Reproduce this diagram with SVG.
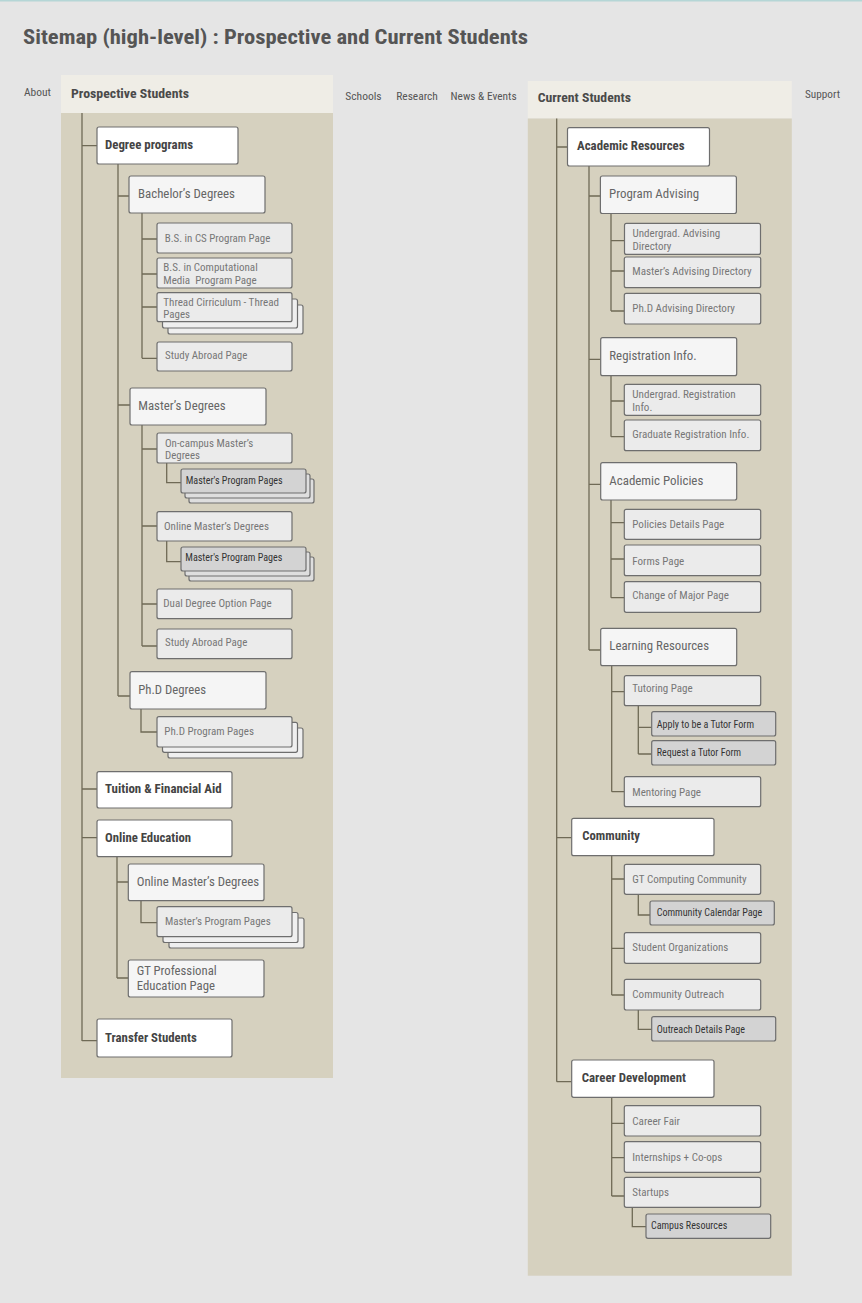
<svg xmlns="http://www.w3.org/2000/svg" width="862" height="1303" viewBox="0 0 862 1303">
<style>
text{font-family:"Roboto Condensed",Roboto,"Liberation Sans",sans-serif}
.title{font-size:21px;font-weight:700;fill:#555}
.nav{font-size:11.5px;fill:#555}
.hdr{font-size:13.5px;font-weight:700;fill:#4a4a4a}
.t1{font-size:13.5px;font-weight:700;fill:#444}
.t2{font-size:13px;fill:#666}
.t3{font-size:10.5px;fill:#777}
.t3b{font-size:11px;fill:#777}
.t4{font-size:10px;fill:#333}
.b{stroke:#6e6e6e;stroke-width:1.2}
.l1{fill:#fff}
.l2{fill:#f5f5f5}
.l3{fill:#ebebeb}
.l3c{fill:#efefef}
.l4{fill:#d3d3d3}
.l4c{fill:#dedede}
.panel{fill:#d6d1bf}
.phead{fill:#efede6}
.conn{fill:none;stroke:#6f6a56;stroke-width:1.3}
</style>
<rect width="862" height="1303" fill="#e5e5e5"/>
<rect width="862" height="1.5" fill="#b5d6d6"/>
<text class="title" x="23" y="43.5" textLength="505" lengthAdjust="spacingAndGlyphs">Sitemap (high-level) : Prospective and Current Students</text>

<g id="nav">
<text class="nav" x="24" y="95.7" textLength="27" lengthAdjust="spacingAndGlyphs">About</text>
<text class="nav" x="345.3" y="99.5" textLength="36.3" lengthAdjust="spacingAndGlyphs">Schools</text>
<text class="nav" x="396.2" y="99.5" textLength="41.7" lengthAdjust="spacingAndGlyphs">Research</text>
<text class="nav" x="450.5" y="99.5" textLength="66.1" lengthAdjust="spacingAndGlyphs">News &amp; Events</text>
<text class="nav" x="805" y="98" textLength="35" lengthAdjust="spacingAndGlyphs">Support</text>
</g>

<g id="panel-prospective">
<rect class="phead" x="61" y="75" width="272" height="38"/>
<rect class="panel" x="61" y="113" width="272" height="965"/>
<text class="hdr" x="71" y="98" textLength="118" lengthAdjust="spacingAndGlyphs">Prospective Students</text>
</g>
<g id="panel-current">
<rect class="phead" x="527.8" y="81" width="264" height="37.5"/>
<rect class="panel" x="527.8" y="118.5" width="264" height="1157.2"/>
<text class="hdr" x="537.7" y="101.8" textLength="93.3" lengthAdjust="spacingAndGlyphs">Current Students</text>
</g>

<g id="connectors">
<path class="conn" d="M82,113V1041M82,145.7H97M82,789H97M82,837.7H97M82,1040.7H97"/>
<path class="conn" d="M118,164V696M118,196H129M118,405H130M118,696H130"/>
<path class="conn" d="M142,213V358.3M142,239H157M142,274H157M142,307H157M142,358.3H157"/>
<path class="conn" d="M142,425V646M142,449H157M142,526H157M142,604H157M142,646H157"/>
<path class="conn" d="M166.7,463V482.7H181M166.7,541V561.7H181"/>
<path class="conn" d="M141,709V732H157"/>
<path class="conn" d="M117,857V978M117,882H128.3M117,978H128.3"/>
<path class="conn" d="M141,901V922.7H157"/>
<path class="conn" d="M556.7,118.5V1081.7M556.7,147H567.5M556.7,837.7H571.7M556.7,1081.7H571.7"/>
<path class="conn" d="M589,166V650M589,196H600.4M589,359.3H600.7M589,484.3H600.7M589,650H600.7"/>
<path class="conn" d="M611,213.5V311M611,240.7H624.5M611,271H624.3M611,311H624.3"/>
<path class="conn" d="M611,375.7V436.7M611,401H624.3M611,436.7H624.3"/>
<path class="conn" d="M611,500V597.7M611,522.7H624.3M611,559H624.3M611,597.7H624.3"/>
<path class="conn" d="M611.7,665.7V791.7M611.7,691.7H624.3M611.7,791.7H624.3"/>
<path class="conn" d="M638.3,705.7V754M638.3,727.3H651.7M638.3,754H651.7"/>
<path class="conn" d="M611.7,855.7V995M611.7,879H624.3M611.7,948.3H624.3M611.7,995H624.3"/>
<path class="conn" d="M638.3,894.3V915H650"/>
<path class="conn" d="M638.3,1010V1029.3H651.7"/>
<path class="conn" d="M611.7,1097.3V1196M611.7,1123.3H624.3M611.7,1157.7H624.3M611.7,1196H624.3"/>
<path class="conn" d="M632.3,1207.3V1226.7H646"/>
</g>

<g id="degree-programs"><rect class="b l1" x="97" y="127" width="141" height="37" rx="2"/><text class="t1" x="105" y="149" textLength="88" lengthAdjust="spacingAndGlyphs">Degree programs</text></g>
<g id="bachelors"><rect class="b l2" x="129" y="176" width="136" height="37" rx="2"/><text class="t2" x="138" y="198" textLength="97" lengthAdjust="spacingAndGlyphs">Bachelor’s Degrees</text></g>
<g id="bs-cs"><rect class="b l3" x="157" y="223" width="135" height="30" rx="2"/><text class="t3" x="164.7" y="242" textLength="105.6" lengthAdjust="spacingAndGlyphs">B.S. in CS Program Page</text></g>
<g id="bs-cm"><rect class="b l3" x="157" y="258" width="135" height="30" rx="2"/><text class="t3" x="163.3" y="271.1" textLength="94.4" lengthAdjust="spacingAndGlyphs">B.S. in Computational</text><text class="t3" x="163.3" y="283.8" textLength="93.4" lengthAdjust="spacingAndGlyphs" xml:space="preserve">Media  Program Page</text></g>
<g id="thread"><rect class="b l3c" x="168" y="305" width="135" height="29" rx="2"/><rect class="b l3c" x="162.5" y="299" width="135" height="29" rx="2"/><rect class="b l3" x="157" y="292.7" width="135" height="29" rx="2"/><text class="t3" x="163.3" y="305.5" textLength="115.7" lengthAdjust="spacingAndGlyphs">Thread Cirriculum - Thread</text><text class="t3" x="163.3" y="317.8" textLength="26.7" lengthAdjust="spacingAndGlyphs">Pages</text></g>
<g id="study-abroad-1"><rect class="b l3" x="157" y="342" width="135" height="29" rx="2"/><text class="t3" x="165" y="358.8" textLength="82.3" lengthAdjust="spacingAndGlyphs">Study Abroad Page</text></g>
<g id="masters"><rect class="b l2" x="130" y="388" width="136" height="37" rx="2"/><text class="t2" x="138.3" y="409.7" textLength="87.4" lengthAdjust="spacingAndGlyphs">Master’s Degrees</text></g>
<g id="oncampus"><rect class="b l3" x="157" y="433" width="135" height="30" rx="2"/><text class="t3" x="165" y="446.5" textLength="88.3" lengthAdjust="spacingAndGlyphs">On-campus Master’s</text><text class="t3" x="165" y="458.8" textLength="35" lengthAdjust="spacingAndGlyphs">Degrees</text></g>
<g id="mpp-1"><rect class="b l4c" x="189" y="479" width="125" height="24" rx="2"/><rect class="b l4c" x="185" y="474" width="125" height="24" rx="2"/><rect class="b l4" x="181" y="469" width="125" height="24" rx="2"/><text class="t4" x="185.7" y="483.6" textLength="97" lengthAdjust="spacingAndGlyphs">Master's Program Pages</text></g>
<g id="online-masters"><rect class="b l3" x="157" y="511.7" width="135" height="29.3" rx="2"/><text class="t3" x="164" y="529.5" textLength="105" lengthAdjust="spacingAndGlyphs">Online Master’s Degrees</text></g>
<g id="mpp-2"><rect class="b l4c" x="189" y="557" width="125" height="24" rx="2"/><rect class="b l4c" x="185" y="552" width="125" height="24" rx="2"/><rect class="b l4" x="181" y="547" width="125" height="24" rx="2"/><text class="t4" x="185.3" y="560.9" textLength="97" lengthAdjust="spacingAndGlyphs">Master's Program Pages</text></g>
<g id="dual-degree"><rect class="b l3" x="157" y="589" width="135" height="29.7" rx="2"/><text class="t3" x="163.3" y="607.1" textLength="108.4" lengthAdjust="spacingAndGlyphs">Dual Degree Option Page</text></g>
<g id="study-abroad-2"><rect class="b l3" x="157" y="629" width="135" height="29.7" rx="2"/><text class="t3" x="165" y="646.1" textLength="82.3" lengthAdjust="spacingAndGlyphs">Study Abroad Page</text></g>
<g id="phd"><rect class="b l2" x="130" y="671.7" width="136" height="37.3" rx="2"/><text class="t2" x="138.3" y="693.7" textLength="67.7" lengthAdjust="spacingAndGlyphs">Ph.D Degrees</text></g>
<g id="phd-pages"><rect class="b l3c" x="168" y="728" width="135" height="30" rx="2"/><rect class="b l3c" x="162.5" y="722.3" width="135" height="30" rx="2"/><rect class="b l3" x="157" y="716.7" width="135" height="30.3" rx="2"/><text class="t3b" x="164.3" y="734.7" textLength="89.7" lengthAdjust="spacingAndGlyphs">Ph.D Program Pages</text></g>
<g id="tuition"><rect class="b l1" x="97" y="771.7" width="135" height="36.3" rx="2"/><text class="t1" x="105" y="793.2" textLength="116.7" lengthAdjust="spacingAndGlyphs">Tuition &amp; Financial Aid</text></g>
<g id="online-education"><rect class="b l1" x="97" y="820" width="135" height="36.7" rx="2"/><text class="t1" x="105" y="842.2" textLength="86" lengthAdjust="spacingAndGlyphs">Online Education</text></g>
<g id="online-masters-2"><rect class="b l2" x="128.3" y="864" width="135.7" height="36.7" rx="2"/><text class="t2" x="136.7" y="885.7" textLength="122.3" lengthAdjust="spacingAndGlyphs">Online Master’s Degrees</text></g>
<g id="mpp-3"><rect class="b l3c" x="169" y="918" width="135" height="30" rx="2"/><rect class="b l3c" x="163" y="912.5" width="135" height="30" rx="2"/><rect class="b l3" x="157" y="906.7" width="135" height="30" rx="2"/><text class="t3b" x="165" y="924.7" textLength="105.7" lengthAdjust="spacingAndGlyphs">Master’s Program Pages</text></g>
<g id="gt-professional"><rect class="b l2" x="128.3" y="960" width="135.7" height="37" rx="2"/><text class="t2" x="136.7" y="975.4" textLength="80" lengthAdjust="spacingAndGlyphs">GT Professional</text><text class="t2" x="136.7" y="989.7" textLength="78.3" lengthAdjust="spacingAndGlyphs">Education Page</text></g>
<g id="transfer"><rect class="b l1" x="97" y="1019" width="135" height="38" rx="2"/><text class="t1" x="105" y="1041.6" textLength="91.7" lengthAdjust="spacingAndGlyphs">Transfer Students</text></g>

<g id="academic-resources"><rect class="b l1" x="567.5" y="127.7" width="142" height="38.3" rx="2"/><text class="t1" x="577" y="149.6" textLength="107.6" lengthAdjust="spacingAndGlyphs">Academic Resources</text></g>
<g id="program-advising"><rect class="b l2" x="600.4" y="176" width="136" height="37.5" rx="2"/><text class="t2" x="609" y="197.5" textLength="90.2" lengthAdjust="spacingAndGlyphs">Program Advising</text></g>
<g id="undergrad-advising"><rect class="b l3" x="624.5" y="223.4" width="136" height="31" rx="2"/><text class="t3" x="632.5" y="237.4" textLength="87.7" lengthAdjust="spacingAndGlyphs">Undergrad. Advising</text><text class="t3" x="632.5" y="250.2" textLength="38.9" lengthAdjust="spacingAndGlyphs">Directory</text></g>
<g id="masters-advising"><rect class="b l3" x="624.3" y="257" width="136.4" height="30.7" rx="2"/><text class="t3" x="632.3" y="274.5" textLength="119.4" lengthAdjust="spacingAndGlyphs">Master’s Advising Directory</text></g>
<g id="phd-advising"><rect class="b l3" x="624.3" y="293.3" width="136.4" height="30.7" rx="2"/><text class="t3" x="632.3" y="312.1" textLength="102.7" lengthAdjust="spacingAndGlyphs">Ph.D Advising Directory</text></g>
<g id="registration"><rect class="b l2" x="600.7" y="337.7" width="136" height="38" rx="2"/><text class="t2" x="609.3" y="360.4" textLength="87.4" lengthAdjust="spacingAndGlyphs">Registration Info.</text></g>
<g id="undergrad-registration"><rect class="b l3" x="624.3" y="384.3" width="136.4" height="31" rx="2"/><text class="t3" x="632.3" y="398.1" textLength="103.4" lengthAdjust="spacingAndGlyphs">Undergrad. Registration</text><text class="t3" x="632.3" y="410.8" textLength="20" lengthAdjust="spacingAndGlyphs">Info.</text></g>
<g id="graduate-registration"><rect class="b l3" x="624.3" y="420" width="136.4" height="30.7" rx="2"/><text class="t3" x="632.3" y="438.1" textLength="117" lengthAdjust="spacingAndGlyphs">Graduate Registration Info.</text></g>
<g id="academic-policies"><rect class="b l2" x="600.7" y="462.7" width="136" height="37.3" rx="2"/><text class="t2" x="609.3" y="484.7" textLength="94" lengthAdjust="spacingAndGlyphs">Academic Policies</text></g>
<g id="policies-details"><rect class="b l3" x="624.3" y="509.3" width="136.4" height="30" rx="2"/><text class="t3" x="632.3" y="528.1" textLength="92" lengthAdjust="spacingAndGlyphs">Policies Details Page</text></g>
<g id="forms"><rect class="b l3" x="624.3" y="545" width="136.4" height="30.7" rx="2"/><text class="t3" x="632.3" y="564.8" textLength="52" lengthAdjust="spacingAndGlyphs">Forms Page</text></g>
<g id="change-major"><rect class="b l3" x="624.3" y="581.7" width="136.4" height="30.6" rx="2"/><text class="t3" x="632.3" y="598.8" textLength="96.7" lengthAdjust="spacingAndGlyphs">Change of Major Page</text></g>
<g id="learning-resources"><rect class="b l2" x="600.7" y="628.3" width="136" height="37.4" rx="2"/><text class="t2" x="609.3" y="650.4" textLength="99.7" lengthAdjust="spacingAndGlyphs">Learning Resources</text></g>
<g id="tutoring"><rect class="b l3" x="624.3" y="675.7" width="136.4" height="30" rx="2"/><text class="t3" x="632.3" y="692.1" textLength="60.4" lengthAdjust="spacingAndGlyphs">Tutoring Page</text></g>
<g id="apply-tutor"><rect class="b l4" x="651.7" y="711.7" width="124" height="24.3" rx="2"/><text class="t4" x="656.7" y="727.6" textLength="97.3" lengthAdjust="spacingAndGlyphs">Apply to be a Tutor Form</text></g>
<g id="request-tutor"><rect class="b l4" x="651.7" y="740.7" width="124" height="24.3" rx="2"/><text class="t4" x="656.7" y="755.6" textLength="84.3" lengthAdjust="spacingAndGlyphs">Request a Tutor Form</text></g>
<g id="mentoring"><rect class="b l3" x="624.3" y="776.7" width="136.4" height="30" rx="2"/><text class="t3" x="632.3" y="796.1" textLength="68.7" lengthAdjust="spacingAndGlyphs">Mentoring Page</text></g>
<g id="community"><rect class="b l1" x="571.7" y="818.3" width="142.3" height="37.4" rx="2"/><text class="t1" x="582.3" y="839.9" textLength="57.7" lengthAdjust="spacingAndGlyphs">Community</text></g>
<g id="gt-computing-community"><rect class="b l3" x="624.3" y="864.3" width="136.4" height="30" rx="2"/><text class="t3" x="632.3" y="882.8" textLength="114.4" lengthAdjust="spacingAndGlyphs">GT Computing Community</text></g>
<g id="community-calendar"><rect class="b l4" x="650" y="901" width="124.3" height="24" rx="2"/><text class="t4" x="656.7" y="915.9" textLength="105.6" lengthAdjust="spacingAndGlyphs">Community Calendar Page</text></g>
<g id="student-orgs"><rect class="b l3" x="624.3" y="932.7" width="136.4" height="30.6" rx="2"/><text class="t3" x="632.3" y="951.1" textLength="96" lengthAdjust="spacingAndGlyphs">Student Organizations</text></g>
<g id="community-outreach"><rect class="b l3" x="624.3" y="979.3" width="136.4" height="30.7" rx="2"/><text class="t3" x="632.3" y="997.8" textLength="91.7" lengthAdjust="spacingAndGlyphs">Community Outreach</text></g>
<g id="outreach-details"><rect class="b l4" x="651.7" y="1016.7" width="124" height="24.3" rx="2"/><text class="t4" x="656.7" y="1032.6" textLength="88.3" lengthAdjust="spacingAndGlyphs">Outreach Details Page</text></g>
<g id="career-development"><rect class="b l1" x="571.7" y="1060" width="142.3" height="37.3" rx="2"/><text class="t1" x="581.7" y="1081.6" textLength="104.3" lengthAdjust="spacingAndGlyphs">Career Development</text></g>
<g id="career-fair"><rect class="b l3" x="624.3" y="1105.7" width="136.4" height="30.3" rx="2"/><text class="t3" x="632.3" y="1124.8" textLength="47.7" lengthAdjust="spacingAndGlyphs">Career Fair</text></g>
<g id="internships"><rect class="b l3" x="624.3" y="1141.7" width="136.4" height="30.6" rx="2"/><text class="t3" x="632.3" y="1160.5" textLength="90" lengthAdjust="spacingAndGlyphs">Internships + Co-ops</text></g>
<g id="startups"><rect class="b l3" x="624.3" y="1177.3" width="136.4" height="30" rx="2"/><text class="t3" x="632.3" y="1195.5" textLength="36.7" lengthAdjust="spacingAndGlyphs">Startups</text></g>
<g id="campus-resources"><rect class="b l4" x="646" y="1214" width="124.7" height="24.3" rx="2"/><text class="t4" x="651" y="1229.3" textLength="76.3" lengthAdjust="spacingAndGlyphs">Campus Resources</text></g>
</svg>
